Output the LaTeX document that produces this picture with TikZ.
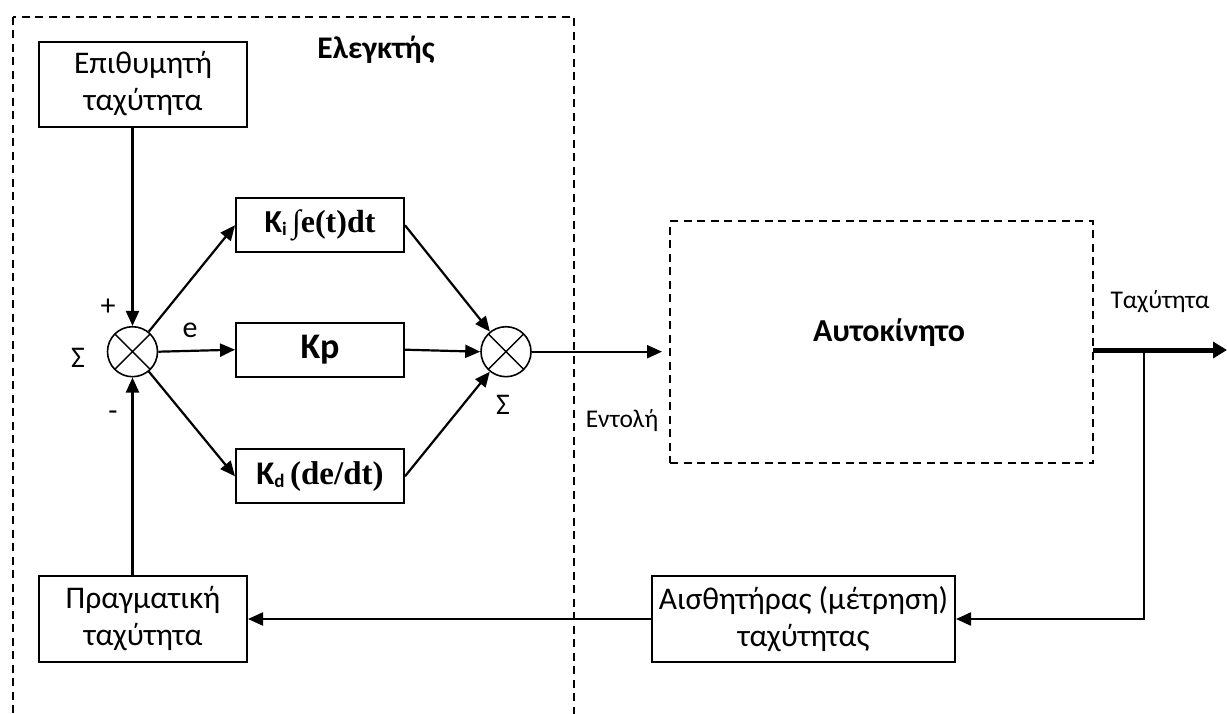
\documentclass[tikz,border=0pt]{standalone}
\usepackage{fontspec}
\setmainfont{Carlito}
\newfontfamily\tnr{Liberation Serif}
\usetikzlibrary{arrows.meta,calc}

\tikzset{
  txt/.style={font=\fontsize{31.5}{37}\selectfont, align=center},
  small/.style={font=\fontsize{25.5}{30}\selectfont},
  sign/.style={font=\fontsize{30}{32}\selectfont},
  blockbox/.style={draw, line width=2pt, inner sep=0pt, txt},
  gainbox/.style={draw, line width=2pt, inner sep=0pt,
    minimum width=168pt, minimum height=54pt},
  sumnode/.style={draw, circle, line width=1.6pt, inner sep=0pt, minimum size=50pt,
    path picture={
      \draw[line width=1.4pt] (path picture bounding box.north west) -- (path picture bounding box.south east)
                              (path picture bounding box.north east) -- (path picture bounding box.south west);}},
  dashbox/.style={draw, line width=2pt, dash pattern=on 8pt off 5.5pt},
  arr/.style={line width=2.2pt, -{Triangle[length=15pt,width=13pt]}},
  bigarr/.style={line width=5pt, -{Triangle[length=14pt,width=16pt]}}
}

\begin{document}
\begin{tikzpicture}[x=1pt,y=-1pt]
  \useasboundingbox (0,0) rectangle (1227,713);
  \clip (0,0) rectangle (1227,713);
  \fill[white] (0,0) rectangle (1227,713);

  % controller frame (open below the page)
  \draw[dashbox] (12.7,16.7) rectangle (574,760);
  \node[font=\fontsize{31.5}{34}\selectfont\bfseries] (ctrl) at (376,50) {Ελεγκτής};

  % reference and measured speed blocks
  \node[blockbox, minimum width=208pt, minimum height=85pt] (des) at (143,84)
    {Επιθυμητή\\ταχύτητα};
  \node[blockbox, minimum width=208pt, minimum height=86pt] (act) at (143,619)
    {Πραγματική\\ταχύτητα};
  \node[blockbox, minimum width=303pt, minimum height=86pt] (sens) at (803.5,619)
    {Αισθητήρας (μέτρηση)\\ταχύτητας};

  % PID branches
  \node[gainbox] (ki) at (320,225.3)
    {\fontsize{32}{34}\selectfont\bfseries K\raisebox{-3pt}{\fontsize{19}{19}\selectfont i}\,{\tnr ∫e(t)dt}};
  \node[gainbox] (kp) at (320,349.7)
    {\fontsize{36}{38}\selectfont\bfseries Kp};
  \node[gainbox] (kd) at (320,476.3)
    {\fontsize{33}{34}\selectfont\bfseries K\raisebox{-3pt}{\fontsize{19}{19}\selectfont d}\,{\tnr (de/dt)}};

  % summing junctions
  \node[sumnode] (s1) at (132.5,351.7) {};
  \node[sumnode] (s2) at (506,351.7) {};

  \node[sign] (plus)  at (108,307) {+};
  \node[sign] (minus) at (113,416) {-};
  \node[sign] (sig1)  at (78,358) {Σ};
  \node[sign] (sig2)  at (503,405) {Σ};
  \node[sign] (err)   at (190,330) {e};

  % plant
  \node[dashbox, minimum width=423pt, minimum height=242pt] (car) at (881.5,342) {};
  \node[font=\fontsize{32}{34}\selectfont\bfseries] (carlbl) at (889,333) {Αυτοκίνητο};
  \node[small] (cmd) at (622,421) {Εντολή};
  \node[small] (spd) at (1160,302) {Ταχύτητα};

  % signal paths
  \draw[arr] (des.south -| s1) -- (s1.north);
  \draw[arr] (act.north -| s1) -- (s1.south);
  \draw[arr] (s1) -- (ki.west);
  \draw[arr] (s1.east) -- (kp.west);
  \draw[arr] (s1) -- (kd.west);
  \draw[arr] (ki.east) -- (s2);
  \draw[arr] (kp.east) -- (s2.west);
  \draw[arr] (kd.east) -- (s2);
  \draw[arr, shorten >=7pt] (s2.east) -- (s2.east -| car.west);

  \coordinate (out) at (1093,350);
  \coordinate (tap) at (1144.3,350);
  \coordinate (end) at (1227,350);
  \draw[bigarr] (out) -- (end);
  \draw[arr] (tap) |- (sens.east);
  \draw[arr] (sens.west) -- (act.east);
\end{tikzpicture}
\end{document}
